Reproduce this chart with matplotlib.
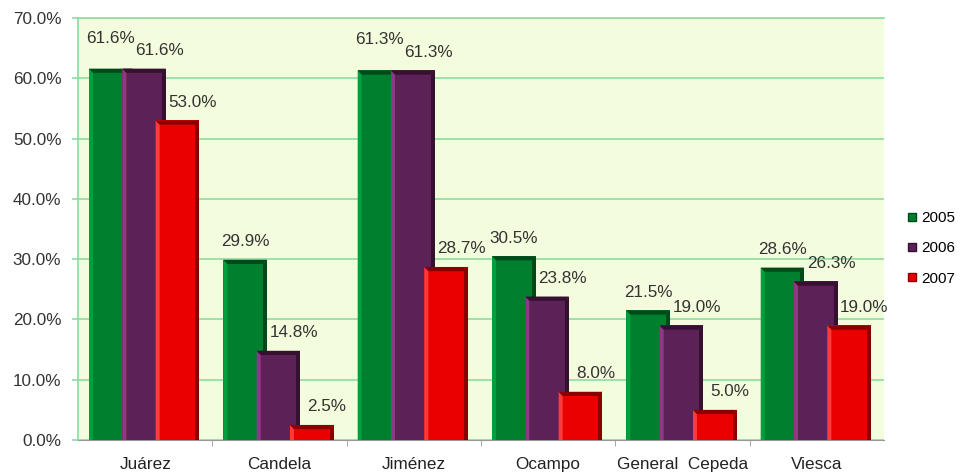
import matplotlib
matplotlib.use("Agg")
import matplotlib.pyplot as plt
from matplotlib.patches import Polygon, Rectangle
from matplotlib.lines import Line2D
import numpy as np

plt.rcParams["font.family"] = ["Liberation Sans", "DejaVu Sans"]

# --- data ---
municipios = ["Juárez", "Candela", "Jiménez", "Ocampo", "General  Cepeda", "Viesca"]
years = ["2005", "2006", "2007"]
v2005 = [61.6, 29.9, 61.3, 30.5, 21.5, 28.6]
v2006 = [61.6, 14.8, 61.3, 23.8, 19.0, 26.3]
v2007 = [53.0, 2.5, 28.7, 8.0, 5.0, 19.0]

# main / light (left edge) / dark (top and right edge)
colors = [
    ("#007F2E", "#00A03E", "#004A1A"),
    ("#5C2157", "#8C3A86", "#36102F"),
    ("#EA0000", "#FF3A3A", "#8A0000"),
]

BAR_W = 0.325
STEP = 0.248
FIRST = -0.418
BEV_X = 0.03
BEV_Y = 0.7
FS = 12.3


def bevel_bar(ax, x0, h, main, light, dark, z):
    x1 = x0 + BAR_W
    dy = min(BEV_Y, h / 2)
    ax.add_patch(Rectangle((x0, 0), BAR_W, h, facecolor=main, edgecolor="none", zorder=z))
    ax.add_patch(Polygon([(x0, h), (x0 + BEV_X, h - dy), (x0 + BEV_X, 0), (x0, 0)],
                         closed=True, facecolor=light, edgecolor="none", zorder=z))
    ax.add_patch(Polygon([(x1, h), (x1, 0), (x1 - BEV_X, 0), (x1 - BEV_X, h - dy)],
                         closed=True, facecolor=dark, edgecolor="none", zorder=z))
    ax.add_patch(Polygon([(x0, h), (x1, h), (x1 - BEV_X, h - dy), (x0 + BEV_X, h - dy)],
                         closed=True, facecolor=dark, edgecolor="none", zorder=z))


fig = plt.figure(figsize=(9.6, 4.76), dpi=100)
ax = fig.add_axes([0.08125, 0.0756, 0.8396, 0.8866])
ax.set_facecolor("#F3FCDC")

series = [v2005, v2006, v2007]
x = np.arange(len(municipios))
for k, vals in enumerate(series):
    main, light, dark = colors[k]
    for i, v in enumerate(vals):
        x0 = x[i] + FIRST + k * STEP
        bevel_bar(ax, x0, v, main, light, dark, 3 + k)
        # labels of the front bars sit a bit to the right so they clear the bar behind
        dx = 0 if k == 0 else 11
        dy = 13
        if k == 0 and abs(v - v2006[i]) < 2:
            dy = 22
        ax.annotate(f"{v:.1f}%", (x0 + BAR_W / 2, v), xytext=(dx, dy),
                    textcoords="offset points", ha="center", va="center",
                    fontsize=FS, color="#333333", zorder=10)

ax.set_xlim(-0.5, 5.5)
ax.set_ylim(0, 70)
ax.set_yticks(np.arange(0, 71, 10))
ax.set_yticklabels([f"{t:.1f}%" for t in np.arange(0, 71, 10)], fontsize=FS, color="#333333")
ax.grid(axis="y", color="#8EDCA4", linewidth=1.2, zorder=0)
ax.set_axisbelow(True)

ax.set_xticks(x)
ax.set_xticklabels(municipios, fontsize=FS, color="#222222")
ax.tick_params(axis="x", length=0, pad=12)
ax.set_xticks(np.arange(0.5, 5.5, 1.0), minor=True)
ax.tick_params(axis="x", which="minor", length=4, color="#999999", direction="out")
ax.tick_params(axis="y", length=4, color="#8EDCA4", width=1.2, pad=8)

ax.spines["right"].set_visible(False)
for s in ("top", "left"):
    ax.spines[s].set_color("#8EDCA4")
    ax.spines[s].set_linewidth(1.2)
ax.spines["bottom"].set_color("#999999")

handles = [Line2D([], [], marker="s", linestyle="none", markersize=6,
                  markerfacecolor=c[0], markeredgecolor=c[2]) for c in colors]
fig.legend(handles, years, loc="center left", bbox_to_anchor=(0.938, 0.478),
           frameon=False, fontsize=11, handlelength=0.5, handletextpad=0.35,
           labelspacing=1.05, borderpad=0)

fig.savefig("out.png", dpi=100)
